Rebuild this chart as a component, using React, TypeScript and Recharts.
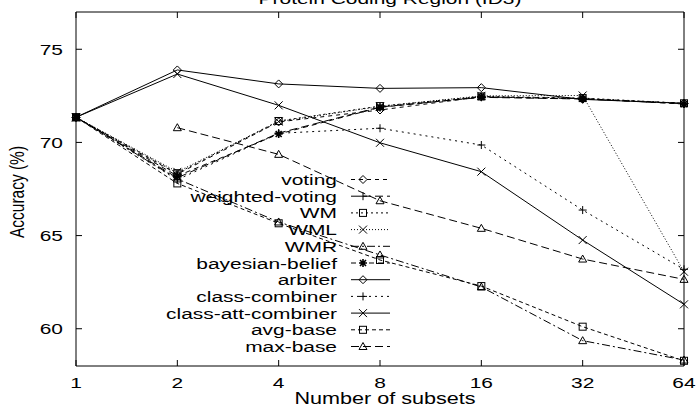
import React from 'react';
import { LineChart, Line, XAxis, YAxis, Legend } from 'recharts';

const subsets = ['1', '2', '4', '8', '16', '32', '64'];

const voting = [71.35, 68.3, 71.1, 71.74, 72.45, 72.35, 72.1];
const weightedVoting = [71.35, 68.1, 70.5, 71.9, 72.42, 72.33, 72.08];
const wm = [71.35, 68.35, 71.15, 71.95, 72.47, 72.38, 72.1];
const wml = [71.35, 68.42, 71.12, 71.93, 72.5, 72.52, 63.06];
const wmr = [71.35, 68.04, 65.73, 63.96, 62.24, 59.36, 58.32];
const bayesianBelief = [71.35, 68.2, 70.45, 71.88, 72.44, 72.35, 72.06];
const arbiter = [71.35, 73.89, 73.14, 72.9, 72.94, 72.31, 72.1];
const classCombiner = [71.35, 68.0, 70.49, 70.76, 69.86, 66.37, 63.19];
const classAttCombiner = [71.35, 73.67, 71.99, 69.98, 68.43, 64.76, 61.31];
const avgBase = [71.35, 67.8, 65.66, 63.69, 62.29, 60.11, 58.28];
const maxBase = [null, 70.79, 69.36, 66.87, 65.39, 63.74, 62.65];

const yTicks = [60, 65, 70, 75];

const title = 'Protein Coding Region (ID3)';
const xLabel = 'Number of subsets';
const yLabel = 'Accuracy (%)';

// style of each series (gnuplot-ish dash patterns + point types)
const series = [
  { key: 'voting', values: voting, dash: '4 4', mark: 'diamond' },
  { key: 'weighted-voting', values: weightedVoting, dash: '8 4', mark: 'plus' },
  { key: 'WM', values: wm, dash: '2 3', mark: 'square' },
  { key: 'WML', values: wml, dash: '1 2', mark: 'cross' },
  { key: 'WMR', values: wmr, dash: '8 3 2 3', mark: 'triangle' },
  { key: 'bayesian-belief', values: bayesianBelief, dash: '5 4', mark: 'star' },
  { key: 'arbiter', values: arbiter, dash: undefined, mark: 'diamond' },
  { key: 'class-combiner', values: classCombiner, dash: '2 4', mark: 'plus' },
  { key: 'class-att-combiner', values: classAttCombiner, dash: undefined, mark: 'cross' },
  { key: 'avg-base', values: avgBase, dash: '4 3', mark: 'square' },
  { key: 'max-base', values: maxBase, dash: '8 4', mark: 'triangle' },
];

const data = subsets.map((n, i) => {
  const row: any = { n };
  series.forEach((s) => {
    row[s.key] = s.values[i];
  });
  return row;
});

const FONT = '"Liberation Sans", Arial, Helvetica, sans-serif';
const SX = 1.35;

const Marker = ({ shape, x, y }: { shape: string; x: number; y: number }) => {
  const s = 4;
  const st = { stroke: '#000', strokeWidth: 1, fill: 'none' };
  switch (shape) {
    case 'diamond':
      return <path d={`M${x},${y - s}L${x + s},${y}L${x},${y + s}L${x - s},${y}Z`} {...st} />;
    case 'plus':
      return <path d={`M${x - s},${y}H${x + s}M${x},${y - s}V${y + s}`} {...st} />;
    case 'square':
      return <rect x={x - 3.5} y={y - 3.5} width={7} height={7} {...st} />;
    case 'cross':
      return <path d={`M${x - s},${y - s}L${x + s},${y + s}M${x - s},${y + s}L${x + s},${y - s}`} {...st} />;
    case 'triangle':
      return <path d={`M${x},${y - s}L${x + s},${y + 3}L${x - s},${y + 3}Z`} {...st} />;
    case 'star':
      return (
        <path
          d={`M${x - s},${y}H${x + s}M${x},${y - s}V${y + s}M${x - 3},${y - 3}L${x + 3},${y + 3}M${x - 3},${y + 3}L${x + 3},${y - 3}`}
          stroke="#000"
          strokeWidth={1.6}
          fill="none"
        />
      );
    default:
      return null;
  }
};

const SText = ({ x, y, anchor, size = 15.5, children }: any) => (
  <text
    transform={`translate(${x},${y}) scale(${SX},1)`}
    textAnchor={anchor}
    fontSize={size}
    fontFamily={FONT}
    fill="#000"
  >
    {children}
  </text>
);

const renderOverlay = () => (
  <svg width={696} height={408} style={{ display: 'block' }}>
    <SText x={390} y={4} anchor="middle">{title}</SText>
    <SText x={385} y={404} anchor="middle" size={16}>{xLabel}</SText>
    <text
      transform={`translate(24,192) rotate(-90) scale(1,${SX})`}
      textAnchor="middle"
      fontSize={15.5}
      fontFamily={FONT}
      fill="#000"
    >
      {yLabel}
    </text>
    {series.map((s, i) => {
      const cy = 179.5 + i * 16.7;
      return (
        <g key={s.key}>
          <SText x={337} y={cy + 5.5} anchor="end">{s.key}</SText>
          <line x1={351} x2={390} y1={cy} y2={cy} stroke="#000" strokeDasharray={s.dash} />
          <Marker shape={s.mark} x={363} y={cy} />
        </g>
      );
    })}
  </svg>
);

const XTick = ({ x, y, payload }: any) => (
  <SText x={x} y={y + 28} anchor="middle">{payload.value}</SText>
);

const YTick = ({ x, y, payload }: any) => (
  <SText x={x - 19} y={y + 5.5} anchor="end">{payload.value}</SText>
);

const NoTick = () => <g />;

export default function App() {
  return (
    <div style={{ position: 'absolute', left: 0, top: 0 }}>
      <LineChart
        width={696}
        height={408}
        data={data}
        margin={{ top: 0, right: 0, bottom: 0, left: 0 }}
      >
        <XAxis
          dataKey="n"
          height={42}
          padding={{ left: 0, right: 0 }}
          tickSize={-6}
          tickMargin={0}
          tick={<XTick />}
          stroke="#000"
          interval={0}
        />
        <XAxis
          xAxisId="top"
          orientation="top"
          dataKey="n"
          height={12}
          padding={{ left: 0, right: 0 }}
          tickSize={-6}
          tick={<NoTick />}
          stroke="#000"
          interval={0}
        />
        <YAxis
          width={76}
          domain={[58, 77]}
          ticks={yTicks}
          tickSize={-6}
          tickMargin={0}
          tick={<YTick />}
          stroke="#000"
          allowDataOverflow
        />
        <YAxis
          yAxisId="r"
          orientation="right"
          width={12}
          domain={[58, 77]}
          ticks={yTicks}
          tickSize={-6}
          tick={<NoTick />}
          stroke="#000"
          allowDataOverflow
        />
        {series.map((s) => (
          <Line
            key={s.key}
            dataKey={s.key}
            type="linear"
            stroke="#000"
            strokeWidth={1}
            strokeDasharray={s.dash}
            isAnimationActive={false}
            dot={(p: any) =>
              p.cy == null ? (
                <g key={`${s.key}-${p.index}`} />
              ) : (
                <g key={`${s.key}-${p.index}`}>
                  <Marker shape={s.mark} x={p.cx} y={p.cy} />
                </g>
              )
            }
          />
        ))}
        <Legend
          layout="vertical"
          align="center"
          verticalAlign="middle"
          wrapperStyle={{ position: 'absolute', left: 0, top: 0, width: 696, height: 408, pointerEvents: 'none' }}
          content={renderOverlay}
        />
      </LineChart>
    </div>
  );
}
